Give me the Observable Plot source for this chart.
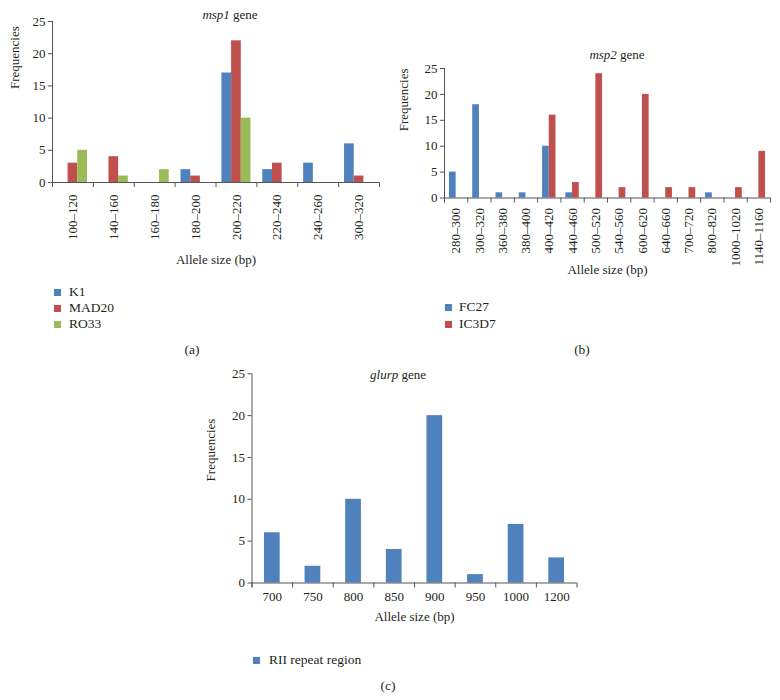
<!DOCTYPE html>
<html>
<head>
<meta charset="utf-8">
<script src="https://cdn.jsdelivr.net/npm/d3@7"></script>
<script src="https://cdn.jsdelivr.net/npm/@observablehq/plot@0.6"></script>
<style>
  html, body { margin: 0; padding: 0; background: #fff; }
  #page { position: relative; width: 780px; height: 700px; overflow: hidden;
          font-family: "Liberation Serif", "DejaVu Serif", serif; color: #231f20; }
  .abs { position: absolute; }
  .ctr { transform: translate(-50%, -50%); white-space: nowrap; }
  .title { font-size: 13px; }
  .letter { font-size: 13.5px; }
  .lrow { display: flex; align-items: center; transform: translateY(-50%); font-size: 13.5px; white-space: nowrap; }
  .sw { display: inline-block; width: 7px; height: 7px; }
</style>
</head>
<body>
<div id="page"></div>
<script>
// ---------- data ----------
const msp1Categories = ["100–120", "140–160", "160–180", "180–200", "200–220", "220–240", "240–260", "300–320"];
const msp1Series = ["K1", "MAD20", "RO33"];
const msp1K1    = [0, 0, 0, 2, 17, 2, 3, 6];
const msp1MAD20 = [3, 4, 0, 1, 22, 3, 0, 1];
const msp1RO33  = [5, 1, 2, 0, 10, 0, 0, 0];

const msp2Categories = ["280–300", "300–320", "360–380", "380–400", "400–420", "440–460", "500–520",
                        "540–560", "600–620", "640–660", "700–720", "800–820", "1000–1020", "1140–1160"];
const msp2Series = ["FC27", "IC3D7"];
const msp2FC27  = [5, 18, 1, 1, 10, 1, 0, 0, 0, 0, 0, 1, 0, 0];
const msp2IC3D7 = [0, 0, 0, 0, 16, 3, 24, 2, 20, 2, 2, 0, 2, 9];

const glurpCategories = ["700", "750", "800", "850", "900", "950", "1000", "1200"];
const glurpSeries = ["RII repeat region"];
const glurpRII = [6, 2, 10, 4, 20, 1, 7, 3];

const yTicks = [0, 5, 10, 15, 20, 25];
const seriesColors = ["#4F81BD", "#C0504D", "#9BBB59"];
const xAxisTitle = "Allele size (bp)";
const yAxisTitle = "Frequencies";

// ---------- drawing ----------
const axisColor = "#555555";
const textColor = "#231f20";
const page = document.getElementById("page");

function drawPanel(cfg) {
  const {categories, series, values, width, height, ml, mr, mt, mb, barFrac,
         rotateLabels, labelPad, yLabelDx, yLabelDy, xLabelDy} = cfg;
  const n = categories.length, k = series.length;
  const bw = (width - ml - mr) / n;
  const barW = bw * barFrac;
  const frameH = height - mt - mb;
  const tickUnits = 5 / (frameH / 25);
  const rows = series.flatMap((s, j) => categories.map((c, i) => ({category: c, series: s, value: values[j][i]})));
  const bars = series.map((s, j) => {
    const left = (bw - k * barW) / 2 + j * barW;
    return Plot.barY(rows.filter(d => d.series === s && d.value > 0), {
      x: "category", y: "value", fill: seriesColors[j],
      insetLeft: left, insetRight: bw - left - barW
    });
  });
  return Plot.plot({
    width, height,
    marginLeft: ml, marginRight: mr, marginTop: mt, marginBottom: mb,
    style: {background: "transparent", overflow: "visible", color: textColor,
            fontFamily: "'Liberation Serif', 'DejaVu Serif', serif", fontSize: "13px"},
    x: {type: "band", domain: categories, padding: 0, round: false},
    y: {domain: [0, 25]},
    marks: [
      ...bars,
      Plot.ruleY([0], {stroke: axisColor}),
      Plot.ruleX([categories[0]], {x: d => d, dx: -bw / 2, y1: -tickUnits, y2: 25, stroke: axisColor}),
      Plot.ruleX(categories, {x: d => d, dx: -bw / 2, y1: 0, y2: -tickUnits, stroke: axisColor}),
      Plot.ruleX([categories[n - 1]], {x: d => d, dx: bw / 2, y1: 0, y2: -tickUnits, stroke: axisColor}),
      Plot.axisY({ticks: yTicks, tickSize: 4, tickPadding: 3, label: null, stroke: axisColor}),
      Plot.axisX({tickSize: 0, tickPadding: labelPad, tickRotate: rotateLabels ? -90 : 0, label: null}),
      Plot.text([xAxisTitle], {text: d => d, frameAnchor: "bottom", dy: xLabelDy, fill: textColor}),
      Plot.text([yAxisTitle], {text: d => d, frameAnchor: "left", rotate: -90, dx: yLabelDx, dy: yLabelDy, fill: textColor})
    ]
  });
}

function place(el, left, top) {
  el.style.position = "absolute";
  el.style.left = left + "px";
  el.style.top = top + "px";
  page.appendChild(el);
}

function addText(html, cls, x, y) {
  const d = document.createElement("div");
  d.className = "abs ctr " + cls;
  d.style.left = x + "px";
  d.style.top = y + "px";
  d.innerHTML = html;
  page.appendChild(d);
}

function addLegend(series, swLeft, textLeft, y0, rowH) {
  series.forEach((s, j) => {
    const row = document.createElement("div");
    row.className = "abs lrow";
    row.style.left = swLeft + "px";
    row.style.top = (y0 + j * rowH) + "px";
    const sw = document.createElement("span");
    sw.className = "sw";
    sw.style.background = seriesColors[j];
    sw.style.marginRight = (textLeft - swLeft - 7) + "px";
    row.appendChild(sw);
    row.appendChild(document.createTextNode(s));
    page.appendChild(row);
  });
}

// Panel (a)
place(drawPanel({
  categories: msp1Categories, series: msp1Series, values: [msp1K1, msp1MAD20, msp1RO33],
  width: 390, height: 280, ml: 52, mr: 11, mt: 21, mb: 98,
  barFrac: 0.237, rotateLabels: true, labelPad: 12,
  yLabelDx: -38, yLabelDy: -13, xLabelDy: 81
}), 0, 0);

// Panel (b)
place(drawPanel({
  categories: msp2Categories, series: msp2Series, values: [msp2FC27, msp2IC3D7],
  width: 390, height: 285, ml: 54, mr: 10, mt: 68, mb: 87.5,
  barFrac: 0.288, rotateLabels: true, labelPad: 10,
  yLabelDx: -41, yLabelDy: -2, xLabelDy: 76
}), 390, 0);

// Panel (c)
place(drawPanel({
  categories: glurpCategories, series: glurpSeries, values: [glurpRII],
  width: 400, height: 275, ml: 61.5, mr: 13.5, mt: 13.3, mb: 52.5,
  barFrac: 0.387, rotateLabels: false, labelPad: 9,
  yLabelDx: -41, yLabelDy: 3, xLabelDy: 37.5
}), 190, 360);

// Titles
addText("<i>msp1</i> gene", "title", 230, 15);
addText("<i>msp2</i> gene", "title", 617, 55);
addText("<i>glurp</i> gene", "title", 398, 375);

// Legends
addLegend(msp1Series, 54, 69, 292, 16);
addLegend(msp2Series, 445, 459, 307, 17);
addLegend(glurpSeries, 253, 269, 660, 16);

// Panel letters
addText("(a)", "letter", 192, 350);
addText("(b)", "letter", 582, 350);
addText("(c)", "letter", 388, 686);
</script>
</body>
</html>
